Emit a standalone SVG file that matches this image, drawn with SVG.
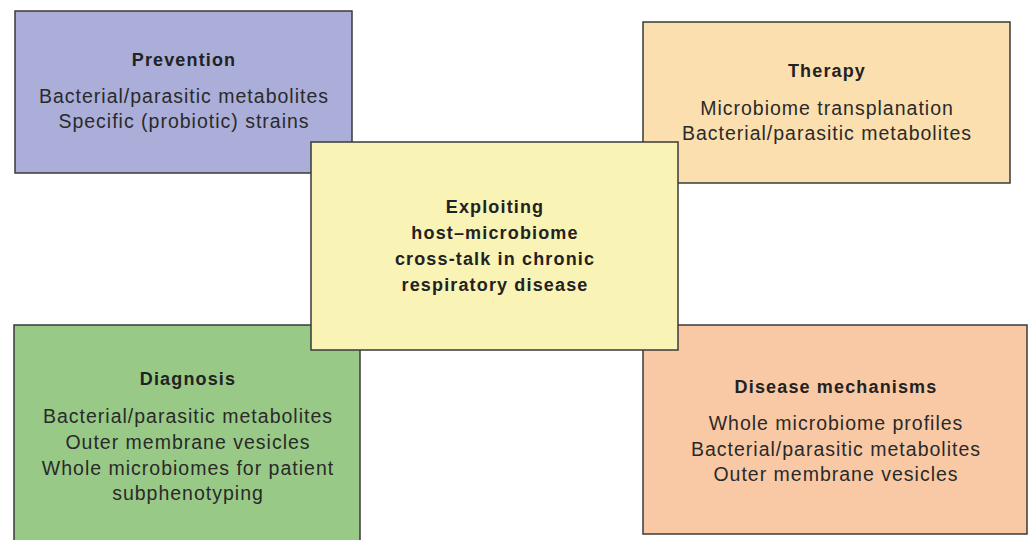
<svg xmlns="http://www.w3.org/2000/svg" width="1029" height="540" viewBox="0 0 1029 540">
<style>
.box{stroke:#3a3a3a;stroke-width:1.5}
.t{font-family:"Liberation Sans",Arial,sans-serif;font-size:18px;font-weight:bold;fill:#222;text-anchor:middle;letter-spacing:1.15px}
.b{font-family:"Liberation Sans",Arial,sans-serif;font-size:19.5px;fill:#2a2a2a;text-anchor:middle;letter-spacing:1px}
</style>
<rect width="1029" height="540" fill="#fff"/>
<g id="connectors"></g>
<g id="prevention">
<rect class="box" x="15" y="11" width="337" height="162" fill="#ABAED8"/>
<text class="t" x="184" y="66">Prevention</text>
<text class="b" x="184" y="103">Bacterial/parasitic metabolites</text>
<text class="b" x="184" y="128">Specific (probiotic) strains</text>
</g>
<g id="therapy">
<rect class="box" x="643" y="22" width="367" height="161" fill="#FBDFAF"/>
<text class="t" x="827" y="77">Therapy</text>
<text class="b" x="827" y="115">Microbiome transplanation</text>
<text class="b" x="827" y="140">Bacterial/parasitic metabolites</text>
</g>
<g id="diagnosis">
<rect class="box" x="14" y="325" width="346" height="230" fill="#98C986"/>
<text class="t" x="188" y="385">Diagnosis</text>
<text class="b" x="188" y="423">Bacterial/parasitic metabolites</text>
<text class="b" x="188" y="449">Outer membrane vesicles</text>
<text class="b" x="188" y="475">Whole microbiomes for patient</text>
<text class="b" x="188" y="500">subphenotyping</text>
</g>
<g id="mechanisms">
<rect class="box" x="643" y="325" width="384" height="209" fill="#F9C9A5"/>
<text class="t" x="836" y="393">Disease mechanisms</text>
<text class="b" x="836" y="430">Whole microbiome profiles</text>
<text class="b" x="836" y="456">Bacterial/parasitic metabolites</text>
<text class="b" x="836" y="481">Outer membrane vesicles</text>
</g>
<g id="center">
<rect class="box" x="311" y="142" width="367" height="208" fill="#F9F3B5"/>
<text class="t" x="495" y="213">Exploiting</text>
<text class="t" x="495" y="239">host–microbiome</text>
<text class="t" x="495" y="265">cross-talk in chronic</text>
<text class="t" x="495" y="291">respiratory disease</text>
</g>
</svg>
